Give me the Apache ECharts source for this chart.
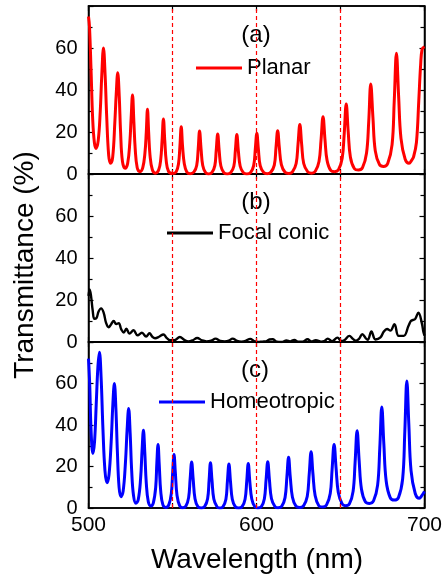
<!DOCTYPE html>
<html><head><meta charset="utf-8">
<script src="https://cdn.jsdelivr.net/npm/echarts@6/dist/echarts.min.js"></script>
<style>html,body{margin:0;padding:0;background:#fff}#c{width:445px;height:578px}</style>
</head><body><div id="c"></div>
<script>
const seriesNames = ['Planar', 'Focal conic', 'Homeotropic'];
const panelLabels = ['(a)', '(b)', '(c)'];
const seriesColors = ['#ff0000', '#000000', '#0000ff'];
const markerWavelengths = [550, 600, 650];
const xTickValues = [500, 600, 700];
const yTickValues = [0, 20, 40, 60];

// [wavelength (nm), transmittance (%)]
const planar = [
 [500,75],[500.6,70],[501.5,50],[502.5,26],[503.5,15],[504.5,12.2],[505.8,16],[507,30],[507.9,47],[508.9,60],
 [509.9,47],[510.8,28],[512,9],[513.1,5.1],[514.4,8],[515.7,25],[516.5,38],[517.4,48.2],[518.3,37],[519.1,20],
 [520.2,6],[521.8,2.7],[523.3,5],[524.6,15],[525.4,27],[526.2,37.6],[527,25],[527.8,12],[529,3],[530.7,1.1],
 [532.3,3],[533.6,10],[534.4,20],[535.1,30.8],[535.8,20],[536.6,9],[538,2],[539.9,0.4],[541.8,2],[543,7],
 [543.8,16],[544.6,26.2],[545.4,16],[546.3,6],[547.6,1.3],[549.9,0.2],[552.2,1.1],[553.6,5],[554.4,13],[555.2,22.5],
 [556,13],[557,5],[558.5,1],[560.6,0.1],[562.8,1],[564.4,4],[565.3,12],[566.1,20.5],[567,12],[568,4],
 [569.6,0.8],[571.5,0],[573.5,0.8],[575.2,4],[576,11],[576.9,19],[577.8,11],[578.8,3.8],[580.6,0.6],[582.6,0],
 [584.6,0.6],[586.5,3.7],[587.4,11],[588.3,18.8],[589.2,11],[590.3,3.7],[592.2,0.6],[594.3,0],[596.4,0.6],[598.3,4],
 [599.3,12],[600.2,19.4],[601.1,12],[602.2,4],[604.3,0.7],[606.4,0.1],[608.5,0.8],[610.6,4.2],[611.6,12.5],[612.6,20.6],
 [613.6,12.5],[614.8,4.5],[617,0.8],[619.2,0.2],[621.4,1],[623.6,5],[624.7,14],[625.8,23.6],[626.9,14],[628.1,5],
 [630.5,1],[632.7,0.4],[635,1.3],[637.2,6],[638.4,16],[639.6,27.3],[640.8,16],[642,6.5],[644.3,1.6],[646.5,1.1],
 [648.8,2],[651,7.5],[652.2,19],[653.4,33.3],[654.6,20],[655.9,8],[658.3,2.5],[660.7,1.9],[663.1,3],[665.5,10],
 [666.8,25],[668,42.9],[669.3,27],[670.7,11],[673.2,4.5],[675.6,3.6],[678.1,5],[680.7,14],[682,35],[683.3,57.5],
 [684.6,37],[686,17],[688.5,7],[690.8,5.1],[692.3,6.5],[693.5,8.2],[695.2,15],[696.6,35],[697.7,52],[698.6,59.5],[700,60.6]
];

const focalConic = [
 [500,22],[500.7,25],[501.5,22],[502.5,15],[503.5,11],[504.8,11.5],[506,14.5],[507.5,16],[509,14],[510.5,9],
 [512,7],[513.5,8.5],[515,10],[516.5,8.5],[518,9],[519.5,6],[521,4.5],[522.5,6.3],[524.4,4],[526.8,5.6],
 [529.2,3.2],[531.8,4.4],[534.3,2.6],[536.3,4.2],[538,2.5],[539.6,1.8],[542,2.5],[544.6,3.6],[546.5,2],[548.5,0.8],
 [551,0.8],[554.4,2.4],[557,1],[559.4,0.3],[562,0.8],[564.7,1.9],[567.5,0.8],[570.2,0.3],[573,0.6],[575.6,1.6],
 [578.5,0.5],[581.1,0.3],[583.5,0.6],[585.8,1.6],[588.5,0.5],[591,0.2],[593.5,0.5],[596.3,1.5],[598.5,0.4],[601,0],
 [603.5,0.2],[605.7,0.3],[607.7,1.2],[609.6,1.3],[612,0.2],[615,0],[617.8,0.7],[620,0.3],[622.5,1],[625,0.1],
 [627.5,0.2],[630.4,1.3],[632.7,0.3],[635.3,0.9],[638.5,0.2],[640.3,0.4],[642.4,1.6],[645,0.4],[648.2,2.1],[650.5,0.5],
 [652.5,1],[655.3,2.9],[657.4,1.5],[659,0.6],[661,1.5],[663,3.7],[665,1.8],[666.2,1],[668.4,5],[670.8,1.2],
 [673.8,2.2],[675.8,5],[677.7,6.2],[679.7,5.4],[682.1,8.5],[684.6,2.9],[687.6,2.9],[690.5,7.7],[691.9,10],[693.3,10.5],
 [694.5,11],[696.4,14],[698.4,9],[699.4,4.6],[700,3]
];

const homeotropic = [
 [500,72],[500.7,60],[501.5,38],[502.6,26.3],[503.6,32],[504.6,50],[505.6,68],[506.5,75.1],[507.5,63],[508.6,38],
 [509.8,18],[511,12.2],[512.2,16],[513.5,32],[514.5,50],[515.4,60],[516.3,48],[517.2,27],[518.2,10],[519.3,5.4],
 [520.6,8],[522,22],[523,38],[523.9,47.9],[524.8,36],[525.7,18],[526.8,6],[528.2,2.3],[529.6,4],[531,14],
 [531.9,28],[532.7,37.5],[533.5,27],[534.4,12],[535.6,3],[537.1,1],[538.6,2.5],[540,10],[540.7,22],[541.4,30.6],
 [542.1,21],[543,8],[544.3,1.5],[546,0.3],[547.8,1.5],[549.3,7],[550.1,17],[550.9,25.8],[551.7,17],[552.7,6],
 [554.3,1],[556.1,0.1],[558,1],[559.6,5],[560.5,14],[561.4,22.2],[562.3,14],[563.4,4.5],[565.1,0.7],[567.1,0],
 [569.1,0.7],[570.9,4.5],[571.8,13.5],[572.6,21.8],[573.5,13.5],[574.6,4.3],[576.5,0.6],[578.1,0],[580,0.6],[581.8,4.2],
 [582.7,13],[583.6,21.2],[584.5,13],[585.6,4.2],[587.4,0.6],[589.4,0],[591.4,0.6],[593.2,4.2],[594.2,13],[595.1,21.5],
 [596,13],[597.2,4.3],[599,0.6],[600.9,0],[602.9,0.7],[604.7,4.5],[605.7,13.5],[606.7,22.3],[607.7,13.5],[608.9,4.6],
 [611,0.7],[612.9,0.1],[615,0.8],[617,5],[618.1,15],[619.1,24.4],[620.1,15],[621.4,5.2],[623.5,0.9],[625.8,0.2],
 [628,1],[630.2,5.5],[631.4,16.5],[632.5,27.1],[633.6,16.5],[634.9,6],[637.1,1.1],[639.4,0.5],[641.7,1.5],[643.9,7],
 [645,18.5],[646.2,30.6],[647.4,19],[648.7,7.5],[651,2],[653,1.1],[655.3,2],[657.5,8],[658.7,22],[659.9,37.2],
 [661.1,23],[662.5,9],[664.8,3],[667.3,2.2],[669.7,3.5],[672.1,11],[673.4,29],[674.6,48.7],[675.8,31],[677.2,13],
 [679.6,5],[682,3.8],[684.5,5],[687,14],[688.3,37],[689.5,61.2],[690.7,40],[692,18],[694.5,7],[696.9,4.7],
 [698.3,5.8],[700,8]
];

const seriesData = [planar, focalConic, homeotropic];
const FONT = '"Liberation Sans", Arial, sans-serif';
const gridBoxes = [{top: 6, height: 168}, {top: 174, height: 168}, {top: 342, height: 166}];
const legendPos = [{left: 196, top: 57}, {left: 167, top: 222}, {left: 159, top: 391}];
const labelPos = [[256, 35], [256, 202], [255, 370]];

const grid = [], xAxis = [], yAxis = [], series = [], legend = [], graphic = [];
const axisLine = {show: true, onZero: false, lineStyle: {color: '#000', width: 1.5}};
gridBoxes.forEach((g, i) => {
  grid.push({left: 88.5, width: 336, top: g.top, height: g.height, show: true, borderColor: '#000', borderWidth: 1.5, containLabel: false});
  const xBase = {type: 'value', gridIndex: i, min: 500, max: 700, interval: 50,
    axisLine, axisTick: {show: true, inside: true, length: 5, lineStyle: {color: '#000', width: 1.2}},
    splitLine: {show: false}};
  xAxis.push(Object.assign({}, xBase, {position: 'bottom',
    axisLabel: {show: i === 2, margin: 7, fontSize: 21, color: '#000', fontFamily: FONT,
      formatter: v => xTickValues.includes(v) ? String(v) : ''}}));
  xAxis.push(Object.assign({}, xBase, {position: 'top', axisLabel: {show: false}}));
  const yBase = {type: 'value', gridIndex: i, min: 0, max: 80, interval: 20,
    axisLine, axisTick: {show: true, inside: true, length: 5, lineStyle: {color: '#000', width: 1.2}},
    minorTick: {show: true, splitNumber: 2, length: 4, lineStyle: {color: '#000', width: 1.2}},
    splitLine: {show: false}};
  yAxis.push(Object.assign({}, yBase, {position: 'left',
    axisLabel: {margin: 11, fontSize: 20, color: '#000', fontFamily: FONT,
      formatter: v => yTickValues.includes(v) ? String(v) : ''}}));
  yAxis.push(Object.assign({}, yBase, {position: 'right', axisLabel: {show: false}}));
  series.push({
    name: seriesNames[i], type: 'line', xAxisIndex: 2 * i, yAxisIndex: 2 * i,
    data: seriesData[i], showSymbol: false, symbol: 'none', smooth: 0.4,
    lineStyle: {color: seriesColors[i], width: i === 1 ? 2.4 : 3},
    itemStyle: {color: seriesColors[i]},
    animation: false,
    markLine: {silent: true, symbol: 'none', label: {show: false}, z: 10,
      lineStyle: {color: '#ff0000', type: [4, 3], width: 1.2, opacity: 1},
      emphasis: {disabled: true},
      data: markerWavelengths.map(w => ({xAxis: w, lineStyle: {color: '#ff0000'}}))}
  });
  legend.push({data: [seriesNames[i]], left: legendPos[i].left, top: legendPos[i].top, padding: 0,
    icon: 'rect', itemWidth: 46, itemHeight: 3, itemGap: 5,
    textStyle: {fontSize: 22, color: '#000', fontFamily: FONT, padding: [0, 0, 0, 0]}});
  graphic.push({type: 'text', x: labelPos[i][0], y: labelPos[i][1],
    style: {text: panelLabels[i], font: '24px ' + FONT, fill: '#000', align: 'center', verticalAlign: 'middle'}});
});
graphic.push({type: 'text', x: 25, y: 265, rotation: Math.PI / 2,
  style: {text: 'Transmittance (%)', font: '28px ' + FONT, fill: '#000', align: 'center', verticalAlign: 'middle'}});
graphic.push({type: 'text', x: 257, y: 560,
  style: {text: 'Wavelength (nm)', font: '28px ' + FONT, fill: '#000', align: 'center', verticalAlign: 'middle'}});

const chart = echarts.init(document.getElementById('c'), null, {renderer: 'canvas'});
chart.setOption({animation: false, backgroundColor: '#fff', grid, xAxis, yAxis, series, legend, graphic});
</script></body></html>
